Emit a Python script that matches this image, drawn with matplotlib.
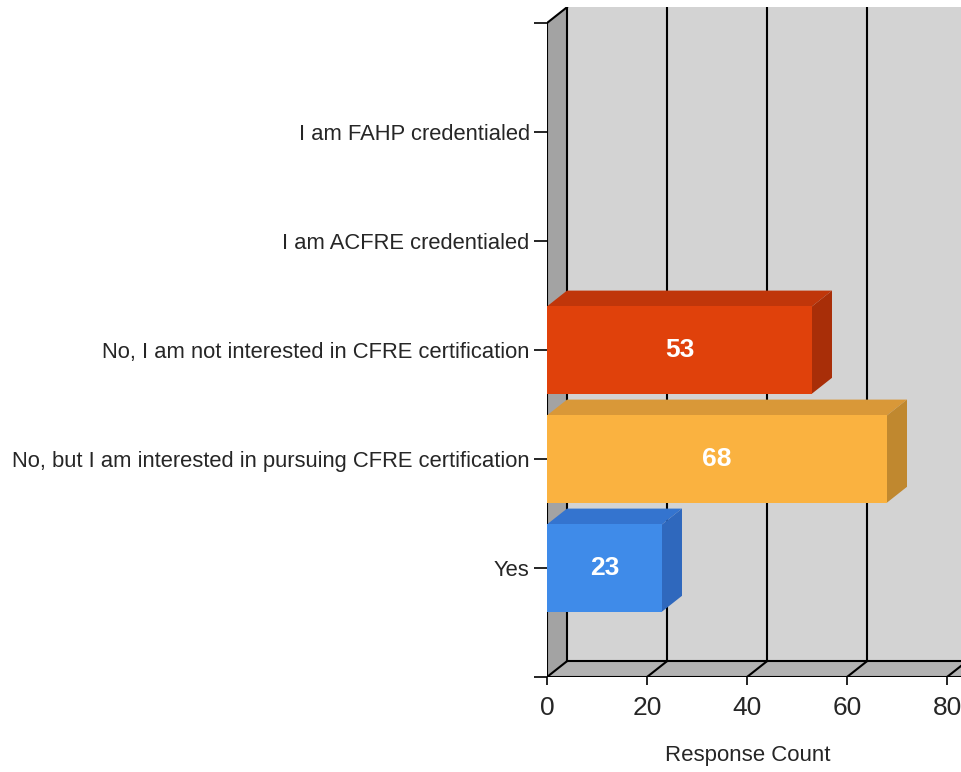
import matplotlib.pyplot as plt
from matplotlib.patches import Polygon, Rectangle
from matplotlib import font_manager

# данные
categories = ['Yes',
              'No, but I am interested in pursuing CFRE certification',
              'No, I am not interested in CFRE certification',
              'I am ACFRE credentialed',
              'I am FAHP credentialed']
counts = [23, 68, 53, 0, 0]
front_colors = ['#3f8be9', '#fab240', '#e0410b', '#3f8be9', '#3f8be9']
top_colors = ['#3474cf', '#d99838', '#c0360a', '#3474cf', '#3474cf']
side_colors = ['#2f68bd', '#c0882f', '#a82e08', '#2f68bd', '#2f68bd']
x_ticks = [0, 20, 40, 60, 80]

names = [f.name for f in font_manager.fontManager.ttflist]
narrow = 'Liberation Sans Narrow' if 'Liberation Sans Narrow' in names else 'Liberation Sans'

W, H = 961, 772
fig = plt.figure(figsize=(W / 100, H / 100), dpi=100)
ax = fig.add_axes([547 / W, 95 / H, 414 / W, 670 / H])

dx, dy = 4.0, 0.145      # смещение "глубины"
ymax = 6 + dy
xmax = 414 / 5.0
ax.set_xlim(0, xmax)
ax.set_ylim(0, 670 / 109)

# стенки
ax.add_patch(Rectangle((dx, dy), xmax, 6, facecolor='#d3d3d3', edgecolor='none', zorder=1))
ax.add_patch(Polygon([(0, 0), (0, 6), (dx, ymax), (dx, dy)], facecolor='#a3a3a3',
                     edgecolor='none', zorder=1))
ax.add_patch(Polygon([(0, 0), (xmax, 0), (xmax + dx, dy), (dx, dy)], facecolor='#b3b3b3',
                     edgecolor='none', zorder=1))

for t in x_ticks:
    ax.plot([t + dx, t + dx], [dy, ymax], color='black', lw=1.5, zorder=2)
    ax.plot([t, t + dx], [0, dy], color='black', lw=1.5, zorder=2)
ax.plot([dx, xmax], [dy, dy], color='black', lw=1.5, zorder=2)
ax.plot([0, xmax], [0, 0], color='black', lw=1.5, zorder=2)
ax.plot([0, 0], [0, 6], color='black', lw=1.5, zorder=2)
ax.plot([0, dx], [6, ymax], color='black', lw=1.5, zorder=2)

# столбцы
h = 0.8
for i in range(len(categories) - 1, -1, -1):
    v = counts[i]
    if v <= 0:
        continue
    y = i + 1
    y0, y1 = y - h / 2, y + h / 2
    ax.add_patch(Polygon([(0, y1), (v, y1), (v + dx, y1 + dy), (dx, y1 + dy)],
                         facecolor=top_colors[i], edgecolor='none', zorder=3))
    ax.add_patch(Polygon([(v, y0), (v, y1), (v + dx, y1 + dy), (v + dx, y0 + dy)],
                         facecolor=side_colors[i], edgecolor='none', zorder=3))
    ax.add_patch(Rectangle((0, y0), v, h, facecolor=front_colors[i], edgecolor='none', zorder=4))
    ax.text(v / 2, y, str(v), ha='center', va='center', color='white', fontsize=19,
            fontweight='bold', family=[narrow, 'DejaVu Sans'], zorder=5)

for s in ax.spines.values():
    s.set_visible(False)

ax.set_yticks(range(7))
ax.set_yticklabels([''] + categories + [''], fontsize=15.8, color='#262626',
                   family='Liberation Sans')
ax.tick_params(axis='y', length=9.5, width=1.2, color='black', pad=3)
ax.set_xticks(x_ticks)
ax.set_xticklabels([str(t) for t in x_ticks], fontsize=19, color='#262626',
                   family=[narrow, 'DejaVu Sans'])
ax.tick_params(axis='x', length=6, width=1.2, color='black', pad=8)
fig.text(748 / W, (H - 755) / H, 'Response Count', fontsize=16, color='#262626',
         family='Liberation Sans', ha='center', va='center')

fig.savefig('out.png', dpi=100)
